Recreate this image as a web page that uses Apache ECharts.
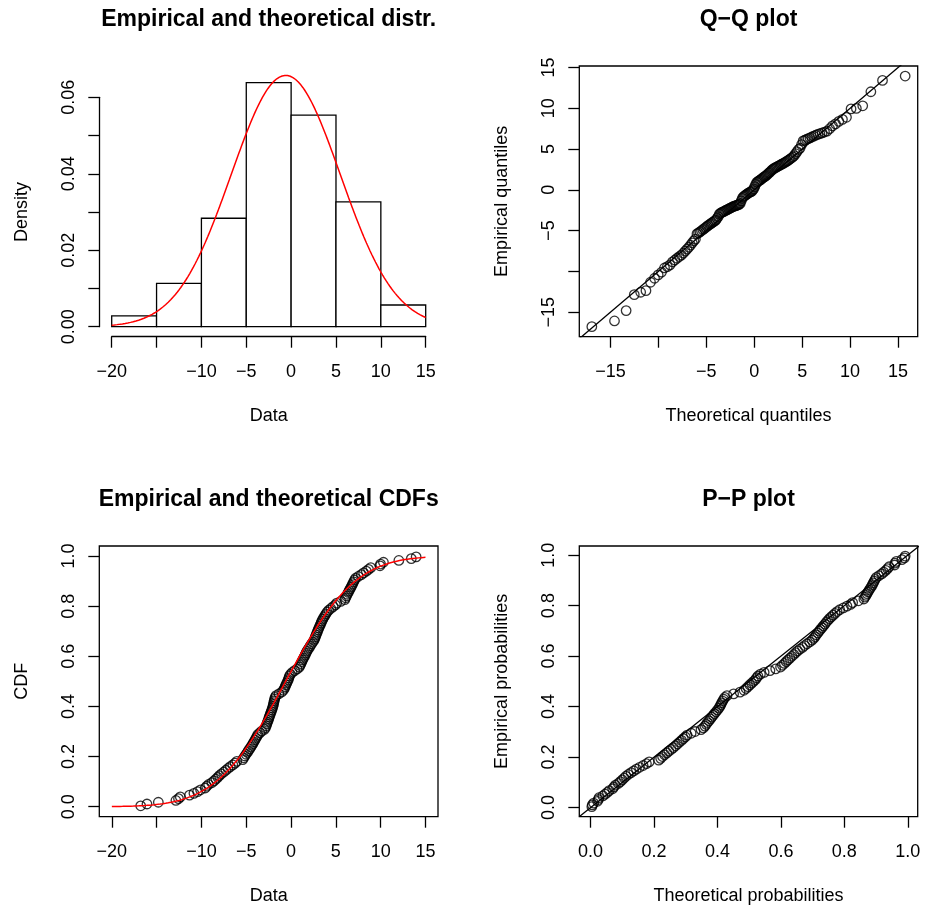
<!DOCTYPE html>
<html><head><meta charset="utf-8">
<script src="https://cdn.jsdelivr.net/npm/echarts@6/dist/echarts.min.js"></script>
<style>html,body{margin:0;padding:0;background:#fff}#c{width:925px;height:913px}</style>
</head><body><div id="c"></div>
<script>
// ---- data (sorted sample, n = 141) ----
const sample = [
-16.78, -16.08, -14.81, -12.85, -12.56, -12.36, -11.33, -10.84, -10.43, -10.10,
-9.58, -9.42, -9.20, -8.84, -8.60, -8.39, -8.18, -8.00, -7.77, -7.51,
-7.27, -7.04, -6.78, -6.50, -6.25, -6.05, -5.40, -5.27, -5.15, -5.02,
-4.88, -4.76, -4.62, -4.49, -4.36, -4.25, -4.14, -4.02, -3.92, -3.81,
-3.71, -3.49, -3.28, -2.97, -2.85, -2.77, -2.70, -2.64, -2.56, -2.49,
-2.43, -2.35, -2.29, -2.21, -2.14, -2.07, -2.02, -1.97, -1.93, -1.88,
-1.83, -1.78, -1.67, -1.35, -1.04, -0.85, -0.75, -0.66, -0.57, -0.48,
-0.39, -0.30, -0.24, -0.18, -0.06, 0.12, 0.40, 0.68, 0.92, 1.01,
1.11, 1.20, 1.29, 1.39, 1.49, 1.59, 1.68, 1.78, 1.90, 2.04,
2.15, 2.28, 2.42, 2.55, 2.64, 2.72, 2.79, 2.87, 2.95, 3.02,
3.11, 3.19, 3.28, 3.36, 3.45, 3.55, 3.66, 3.78, 3.90, 4.03,
4.20, 4.44, 4.69, 4.95, 5.10, 5.55, 6.00, 6.09, 6.19, 6.28,
6.38, 6.48, 6.59, 6.70, 6.80, 6.89, 6.99, 7.09, 7.20, 7.50,
7.84, 8.10, 8.40, 8.65, 8.90, 9.93, 9.99, 10.31, 12.03, 13.42,
13.96
];
const binEdges = [-20, -15, -10, -5, 0, 5, 10, 15];
const fitMean = -0.6;
const fitSd = 6.07;
const curveRange = [-20, 15];

const titles = ['Empirical and theoretical distr.', 'Q\u2212Q plot', 'Empirical and theoretical CDFs', 'P\u2212P plot'];
const histYTicks = [0, 0.01, 0.02, 0.03, 0.04, 0.05, 0.06];
const histYLabels = [0, 0.02, 0.04, 0.06];
const dataTicks = [-20, -15, -10, -5, 0, 5, 10, 15];
const dataLabels = [-20, -10, -5, 0, 5, 10, 15];
const qqTicks = [-15, -10, -5, 0, 5, 10, 15];
const qqLabels = [-15, -5, 0, 5, 10, 15];
const probTicks = [0, 0.2, 0.4, 0.6, 0.8, 1.0];

// ---- helpers ----
function erf(x){const s=x<0?-1:1;x=Math.abs(x);const t=1/(1+0.3275911*x);
  const y=1-(((((1.061405429*t-1.453152027)*t)+1.421413741)*t-0.284496736)*t+0.254829592)*t*Math.exp(-x*x);return s*y;}
function pnorm(x){return 0.5*(1+erf((x-fitMean)/(fitSd*Math.SQRT2)));}
function dnorm(x){const z=(x-fitMean)/fitSd;return Math.exp(-0.5*z*z)/(fitSd*Math.sqrt(2*Math.PI));}
function qstd(p){
 const a=[-3.969683028665376e+01,2.209460984245205e+02,-2.759285104469687e+02,1.383577518672690e+02,-3.066479806614716e+01,2.506628277459239e+00];
 const b=[-5.447609879822406e+01,1.615858368580409e+02,-1.556989798598866e+02,6.680131188771972e+01,-1.328068155288572e+01];
 const c=[-7.784894002430293e-03,-3.223964580411365e-01,-2.400758277161838e+00,-2.549732539343734e+00,4.374664141464968e+00,2.938163982698783e+00];
 const d=[7.784695709041462e-03,3.224671290700398e-01,2.445134137142996e+00,3.754408661907416e+00];
 const pl=0.02425;let q,r;
 if(p<pl){q=Math.sqrt(-2*Math.log(p));return (((((c[0]*q+c[1])*q+c[2])*q+c[3])*q+c[4])*q+c[5])/((((d[0]*q+d[1])*q+d[2])*q+d[3])*q+1);}
 if(p>1-pl){q=Math.sqrt(-2*Math.log(1-p));return -(((((c[0]*q+c[1])*q+c[2])*q+c[3])*q+c[4])*q+c[5])/((((d[0]*q+d[1])*q+d[2])*q+d[3])*q+1);}
 q=p-0.5;r=q*q;return (((((a[0]*r+a[1])*r+a[2])*r+a[3])*r+a[4])*r+a[5])*q/(((((b[0]*r+b[1])*r+b[2])*r+b[3])*r+b[4])*r+1);
}
function qnorm(p){return fitMean+fitSd*qstd(p);}
function pad(lo,hi){const e=0.04*(hi-lo);return [lo-e,hi+e];}
function fmt(dec){return v=>(v<0?'\u2212':'')+Math.abs(v).toFixed(dec);}

const n = sample.length;
const pp = sample.map((_,i)=>(i+0.5)/n);             // ppoints
// histogram (right-closed, include lowest)
const hist = [];
for(let b=0;b<binEdges.length-1;b++){
  const lo=binEdges[b], hi=binEdges[b+1];
  const cnt = sample.filter(v => (b===0 ? v>=lo : v>lo) && v<=hi).length;
  hist.push([lo, hi, cnt/(n*(hi-lo))]);
}
const densCurve=[], cdfCurve=[];
for(let k=0;k<=350;k++){const x=curveRange[0]+k*(curveRange[1]-curveRange[0])/350;densCurve.push([x,dnorm(x)]);cdfCurve.push([x,pnorm(x)]);}
const qqPts = sample.map((v,i)=>[qnorm(pp[i]), v]);
const cdfPts = sample.map((v,i)=>[v, pp[i]]);
const ppPts = sample.map((v,i)=>[pnorm(v), pp[i]]);

const qqX = pad(qqPts[0][0], qqPts[n-1][0]);
const qqY = pad(sample[0], sample[n-1]);
const cdfX = pad(curveRange[0], curveRange[1]);
const cdfY = pad(0, 1);
const ppX = pad(ppPts[0][0], ppPts[n-1][0]);
const ppY = pad(pp[0], pp[n-1]);
const qqLine = [[Math.min(qqX[0],qqY[0]),Math.min(qqX[0],qqY[0])],[Math.max(qqX[1],qqY[1]),Math.max(qqX[1],qqY[1])]];
const ppLine = [[Math.min(ppX[0],ppY[0]),Math.min(ppX[0],ppY[0])],[Math.max(ppX[1],ppY[1]),Math.max(ppX[1],ppY[1])]];

// ---- styling ----
const FF = '"Liberation Sans", Arial, Helvetica, sans-serif';
const LW = 1.3;
const txt = {fontFamily: FF, fontSize: 18, color: '#000'};
function axis(o){
  const isY = o.isY;
  return {
    gridIndex: o.g, type: 'value', min: o.min, max: o.max, offset: o.offset || 0,
    splitLine: {show: false},
    axisLine: {show: !!o.line, onZero: false, lineStyle: {color: '#000', width: LW}},
    axisTick: {show: true, length: 11, customValues: o.ticks, lineStyle: {color: '#000', width: LW}},
    axisLabel: Object.assign({customValues: o.labels, formatter: fmt(o.dec), margin: isY ? 21 : 26, rotate: isY ? 90 : 0}, txt),
    name: o.name, nameLocation: 'middle', nameGap: isY ? 68 : 70, nameRotate: isY ? 90 : 0,
    nameTextStyle: txt
  };
}
const boxGrid = {show: true, borderColor: '#000', borderWidth: LW, backgroundColor: 'transparent'};
const circ = {type: 'scatter', symbol: 'circle', symbolSize: 9.5, itemStyle: {color: 'rgba(0,0,0,0)', borderColor: '#000', borderWidth: 1.3}, silent: true};
const titlePos = [[268.7, 20], [748.5, 20], [268.7, 500], [748.5, 500]];

const option = {
  animation: false,
  backgroundColor: '#fff',
  grid: [
    {left: 111.7, top: 97.3, width: 314, height: 229.4},
    Object.assign({left: 579.3, top: 66, width: 338.4, height: 270.7}, boxGrid),
    Object.assign({left: 99.3, top: 546, width: 338.7, height: 270.7}, boxGrid),
    Object.assign({left: 579.3, top: 546, width: 338.4, height: 270.7}, boxGrid)
  ],
  xAxis: [
    axis({g:0, min: curveRange[0], max: curveRange[1], offset: 10, line: true, ticks: dataTicks, labels: dataLabels, dec: 0, name: 'Data'}),
    axis({g:1, min: qqX[0], max: qqX[1], ticks: qqTicks, labels: qqLabels, dec: 0, name: 'Theoretical quantiles'}),
    axis({g:2, min: cdfX[0], max: cdfX[1], ticks: dataTicks, labels: dataLabels, dec: 0, name: 'Data'}),
    axis({g:3, min: ppX[0], max: ppX[1], ticks: probTicks, labels: probTicks, dec: 1, name: 'Theoretical probabilities'})
  ],
  yAxis: [
    axis({g:0, isY: true, min: histYTicks[0], max: histYTicks[histYTicks.length-1], offset: 12.4, line: true, ticks: histYTicks, labels: histYLabels, dec: 2, name: 'Density'}),
    axis({g:1, isY: true, min: qqY[0], max: qqY[1], ticks: qqTicks, labels: qqLabels, dec: 0, name: 'Empirical quantiles'}),
    axis({g:2, isY: true, min: cdfY[0], max: cdfY[1], ticks: probTicks, labels: probTicks, dec: 1, name: 'CDF'}),
    axis({g:3, isY: true, min: ppY[0], max: ppY[1], ticks: probTicks, labels: probTicks, dec: 1, name: 'Empirical probabilities'})
  ],
  series: [
    {type: 'custom', xAxisIndex: 0, yAxisIndex: 0, data: hist, silent: true, clip: false,
     renderItem: function(params, api){
       const p0 = api.coord([api.value(0), 0]);
       const p1 = api.coord([api.value(1), api.value(2)]);
       return {type: 'rect', shape: {x: p0[0], y: p1[1], width: p1[0]-p0[0], height: p0[1]-p1[1]},
               style: {fill: '#fff', stroke: '#000', lineWidth: LW}};
     }},
    {type: 'line', xAxisIndex: 0, yAxisIndex: 0, data: densCurve, showSymbol: false, clip: false, silent: true,
     lineStyle: {color: '#ff0000', width: 1.5}},
    Object.assign({xAxisIndex: 1, yAxisIndex: 1, data: qqPts}, circ),
    {type: 'line', xAxisIndex: 1, yAxisIndex: 1, data: qqLine, showSymbol: false, clip: true, silent: true,
     lineStyle: {color: '#000', width: LW}},
    Object.assign({xAxisIndex: 2, yAxisIndex: 2, data: cdfPts}, circ),
    {type: 'line', xAxisIndex: 2, yAxisIndex: 2, data: cdfCurve, showSymbol: false, clip: true, silent: true,
     lineStyle: {color: '#ff0000', width: 1.5}},
    Object.assign({xAxisIndex: 3, yAxisIndex: 3, data: ppPts}, circ),
    {type: 'line', xAxisIndex: 3, yAxisIndex: 3, data: ppLine, showSymbol: false, clip: true, silent: true,
     lineStyle: {color: '#000', width: LW}}
  ],
  graphic: titles.map((t, i) => ({
    type: 'text', x: titlePos[i][0], y: titlePos[i][1], silent: true,
    style: {text: t, font: 'bold 23px ' + FF, fill: '#000', align: 'center', verticalAlign: 'middle'}
  }))
};
const chart = echarts.init(document.getElementById('c'), null, {renderer: 'canvas'});
chart.setOption(option);
</script>
</body></html>
